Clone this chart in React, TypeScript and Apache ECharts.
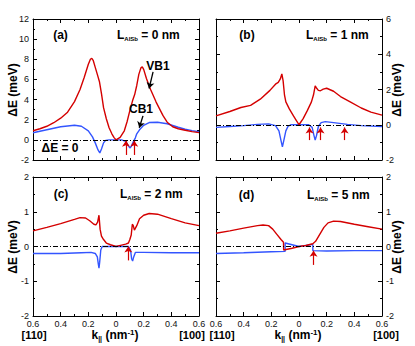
import React, { useEffect, useRef } from 'react';
import * as echarts from 'echarts';

const RED = '#d40000';
const BLUE = '#3355ff';
const FONT = '"Liberation Sans", Arial, Helvetica, sans-serif';

// tick labels along k|| (absolute values on both branches)
const xTickLabels = ['0.6', '0.4', '0.2', '0', '0.2', '0.4', '0.6'];

// Panel (a) L_AlSb = 0 nm
const vbA: number[][] = [
  [-0.6, 0.9], [-0.55, 1.1], [-0.5, 1.35], [-0.45, 1.7], [-0.4, 2.15], [-0.35, 2.75], [-0.3, 3.8],
  [-0.26, 5.0], [-0.23, 6.2], [-0.2, 7.5], [-0.185, 8.0], [-0.175, 8.1], [-0.165, 7.9], [-0.15, 7.2],
  [-0.135, 6.5], [-0.12, 5.8], [-0.105, 4.6], [-0.09, 3.2], [-0.07, 2.1], [-0.05, 1.2], [-0.03, 0.6],
  [-0.015, 0.25], [0, 0], [0.03, 0.25], [0.06, 0.9], [0.08, 1.8], [0.1, 2.9], [0.12, 3.9], [0.135, 4.5],
  [0.15, 5.4], [0.165, 6.5], [0.18, 7.15], [0.19, 7.25], [0.2, 7.0], [0.22, 6.1], [0.25, 5.0],
  [0.29, 3.75], [0.34, 2.4], [0.37, 1.75], [0.41, 1.3], [0.45, 1.1], [0.5, 0.95], [0.55, 0.82], [0.6, 0.72],
];
const cbA: number[][] = [
  [-0.6, 0.7], [-0.5, 1.0], [-0.4, 1.3], [-0.3, 1.45], [-0.25, 1.35], [-0.2, 0.9], [-0.17, 0.3],
  [-0.15, -0.3], [-0.13, -1.0], [-0.117, -1.3], [-0.105, -0.9], [-0.09, -0.3], [-0.075, -0.05],
  [-0.05, 0], [0, 0], [0.04, 0], [0.07, -0.15], [0.09, -0.6], [0.1, -0.8], [0.11, -0.65], [0.125, -0.2],
  [0.14, 0.2], [0.15, 0.6], [0.17, 1.0], [0.2, 1.45], [0.24, 1.72], [0.3, 1.75], [0.37, 1.6],
  [0.45, 1.25], [0.5, 1.05], [0.55, 0.92], [0.6, 0.8],
];
const arrowsA = [0.072, 0.132];

// Panel (b) L_AlSb = 1 nm
const vbB: number[][] = [
  [-0.6, 0.5], [-0.5, 0.75], [-0.42, 0.98], [-0.35, 1.1], [-0.28, 1.45], [-0.21, 1.95], [-0.17, 2.3],
  [-0.15, 2.4], [-0.135, 2.6], [-0.124, 2.88], [-0.115, 2.5], [-0.105, 1.7], [-0.095, 1.3],
  [-0.07, 0.9], [-0.04, 0.5], [-0.02, 0.25], [0, 0], [0.03, 0.35], [0.06, 0.8], [0.09, 1.3],
  [0.105, 1.7], [0.117, 2.2], [0.125, 2.1], [0.14, 1.95], [0.155, 1.93], [0.175, 2.02], [0.2, 2.07],
  [0.25, 1.9], [0.3, 1.6], [0.37, 1.3], [0.45, 0.95], [0.52, 0.72], [0.6, 0.55],
];
const cbB: number[][] = [
  [-0.6, -0.15], [-0.5, -0.1], [-0.4, -0.05], [-0.3, 0.02], [-0.22, 0.05], [-0.17, -0.05],
  [-0.145, -0.35], [-0.13, -0.9], [-0.12, -1.25], [-0.11, -0.9], [-0.095, -0.35], [-0.08, -0.1],
  [-0.06, 0], [0, 0], [0.07, 0], [0.095, -0.15], [0.108, -0.6], [0.117, -0.87], [0.127, -0.6],
  [0.14, -0.1], [0.16, 0.12], [0.19, 0.18], [0.25, 0.12], [0.35, 0.02], [0.45, -0.05], [0.6, -0.1],
];
const arrowsB = [0.076, 0.156, 0.33];

// Panel (c) L_AlSb = 2 nm
const vbC: number[][] = [
  [-0.6, 0.45], [-0.5, 0.55], [-0.4, 0.66], [-0.3, 0.78], [-0.26, 0.83], [-0.22, 0.82], [-0.19, 0.74],
  [-0.16, 0.64], [-0.145, 0.62], [-0.133, 0.7], [-0.123, 0.9], [-0.115, 0.5], [-0.105, 0.3],
  [-0.09, 0.2], [-0.07, 0.1], [-0.04, 0.05], [0, 0], [0.04, 0.04], [0.07, 0.07], [0.09, 0.1],
  [0.1, 0.2], [0.11, 0.33], [0.118, 0.64], [0.125, 0.6], [0.133, 0.47], [0.15, 0.6], [0.17, 0.8],
  [0.2, 0.9], [0.24, 0.95], [0.3, 0.93], [0.4, 0.8], [0.5, 0.68], [0.6, 0.6],
];
const cbC: number[][] = [
  [-0.6, -0.2], [-0.4, -0.2], [-0.25, -0.18], [-0.18, -0.17], [-0.15, -0.2], [-0.135, -0.3],
  [-0.128, -0.5], [-0.123, -0.62], [-0.118, -0.45], [-0.11, -0.1], [-0.1, 0], [-0.05, 0], [0, 0],
  [0.05, 0], [0.09, 0], [0.105, -0.1], [0.113, -0.35], [0.12, -0.42], [0.128, -0.3], [0.14, -0.17],
  [0.2, -0.17], [0.4, -0.18], [0.6, -0.18],
];
const arrowsC = [0.089];

// Panel (d) L_AlSb = 5 nm
const vbD: number[][] = [
  [-0.6, 0.38], [-0.5, 0.45], [-0.4, 0.53], [-0.3, 0.6], [-0.26, 0.62], [-0.22, 0.6], [-0.19, 0.5],
  [-0.16, 0.35], [-0.13, 0.2], [-0.112, 0.12], [-0.111, -0.1], [-0.05, -0.05], [0, 0], [0.05, 0.03],
  [0.1, 0.08], [0.12, 0.15], [0.15, 0.35], [0.18, 0.55], [0.21, 0.68], [0.25, 0.73], [0.3, 0.72],
  [0.4, 0.64], [0.5, 0.57], [0.6, 0.5],
];
const cbD: number[][] = [
  [-0.6, -0.2], [-0.4, -0.18], [-0.2, -0.15], [-0.1, -0.14], [-0.1, 0.1], [-0.05, 0.05], [0, 0],
  [0.05, 0.03], [0.1, 0.06], [0.1, -0.12], [0.2, -0.13], [0.4, -0.12], [0.6, -0.12],
];
const arrowsD = [0.105];

const panels = [
  { grid: { left: 33, top: 19, width: 166, height: 141 }, yMin: -2, yMax: 12, yInt: 2, side: 'left', xLabels: false,
    vb: vbA, cb: cbA, arrows: arrowsA, from: -1.5, to: -0.1 },
  { grid: { left: 216, top: 19, width: 166, height: 141 }, yMin: -2, yMax: 6, yInt: 2, side: 'right', xLabels: false,
    vb: vbB, cb: cbB, arrows: arrowsB, from: -0.87, to: -0.15 },
  { grid: { left: 33, top: 177, width: 166, height: 139 }, yMin: -2, yMax: 2, yInt: 1, side: 'left', xLabels: true,
    vb: vbC, cb: cbC, arrows: arrowsC, from: -0.4, to: 0.0 },
  { grid: { left: 216, top: 177, width: 166, height: 139 }, yMin: -2, yMax: 2, yInt: 1, side: 'right', xLabels: true,
    vb: vbD, cb: cbD, arrows: arrowsD, from: -0.53, to: -0.12 },
];

const bold = (size: number) => ({ fontSize: size, fontWeight: 'bold', fontFamily: FONT, fill: '#000' });

function txt(x: number, y: number, text: string, size = 12, align = 'center', rotation = 0, rich?: any) {
  return {
    type: 'text', x, y, rotation, z: 100, silent: true,
    style: {
      text, fill: '#000', font: `bold ${size}px ${FONT}`,
      align, textAlign: align, verticalAlign: 'middle', textVerticalAlign: 'middle',
      rich,
    },
  };
}

const lRich = {
  b: { ...bold(12), lineHeight: 14 },
  s: { ...bold(6), lineHeight: 6, verticalAlign: 'bottom' },
};
const kRich = {
  b: { ...bold(12), lineHeight: 14 },
  s: { ...bold(7), lineHeight: 7, verticalAlign: 'bottom' },
  p: { ...bold(8), lineHeight: 8, verticalAlign: 'top' },
};

export default function App() {
  const ref = useRef<HTMLDivElement>(null);
  useEffect(() => {
    if (!ref.current) return;
    const chart = echarts.init(ref.current, undefined, { renderer: 'svg' });
    const axisLine = { show: true, onZero: false, lineStyle: { color: '#000', width: 1 } };
    const axisTick = { show: true, inside: true, length: 4, lineStyle: { color: '#000', width: 1 } };
    const minorTick = { show: true, splitNumber: 2, length: 2, lineStyle: { color: '#000', width: 1 } };
    const xAxis: any[] = [];
    const yAxis: any[] = [];
    const series: any[] = [];
    panels.forEach((p, i) => {
      const xc = { type: 'value', gridIndex: i, min: -0.6, max: 0.6, interval: 0.2, splitLine: { show: false }, axisLine, axisTick, minorTick };
      xAxis.push({ ...xc, position: 'bottom', axisLabel: { show: p.xLabels, fontSize: 9, color: '#111', margin: 3, fontFamily: FONT,
        formatter: (v: number) => xTickLabels[Math.round((v + 0.6) / 0.2)] } });
      xAxis.push({ ...xc, position: 'top', axisLabel: { show: false } });
      const yc = { type: 'value', gridIndex: i, min: p.yMin, max: p.yMax, interval: p.yInt, splitLine: { show: false }, axisLine, axisTick, minorTick };
      yAxis.push({ ...yc, position: p.side, axisLabel: { show: true, fontSize: 9, color: '#111', margin: 4, fontFamily: FONT } });
      yAxis.push({ ...yc, position: p.side === 'left' ? 'right' : 'left', axisLabel: { show: false } });
      series.push({
        type: 'line', xAxisIndex: 2 * i, yAxisIndex: 2 * i, data: [], symbol: 'none', silent: true, z: 1,
        markLine: { silent: true, symbol: ['none', 'none'], label: { show: false },
          lineStyle: { color: '#000', width: 1, type: [5, 2, 1, 2] }, data: [{ yAxis: 0 }] },
      });
      series.push({
        type: 'line', xAxisIndex: 2 * i, yAxisIndex: 2 * i, data: p.cb, symbol: 'none', showSymbol: false,
        lineStyle: { color: BLUE, width: 1.4 }, itemStyle: { color: BLUE }, z: 3,
      });
      const extra: any[] = p.arrows.map((k) => [
        { coord: [k, p.from], lineStyle: { color: RED, width: 1.2 } },
        { coord: [k, p.to] },
      ]);
      if (i === 0) {
        extra.push([{ coord: [0.268, 6.75], lineStyle: { color: '#000', width: 1.3 } }, { coord: [0.239, 5.1] }]);
        extra.push([{ coord: [0.195, 2.38], lineStyle: { color: '#000', width: 1.3 } }, { coord: [0.168, 1.2] }]);
      }
      series.push({
        type: 'line', xAxisIndex: 2 * i, yAxisIndex: 2 * i, data: p.vb, symbol: 'none', showSymbol: false,
        lineStyle: { color: RED, width: 1.4 }, itemStyle: { color: RED }, z: 4,
        markLine: { silent: true, symbol: ['none', 'arrow'], symbolSize: 6, label: { show: false }, z: 6,
          lineStyle: { color: RED, width: 1.2, type: 'solid' }, data: extra },
      });
    });

    const graphic: any[] = [
      txt(60.5, 35, '(a)'), txt(247, 35, '(b)'), txt(61, 194, '(c)'), txt(246.5, 195, '(d)'),
      txt(117, 35, '{b|L}{s|AlSb}{b| = 0 nm}', 12, 'left', 0, lRich),
      txt(306, 35, '{b|L}{s|AlSb}{b| = 1 nm}', 12, 'left', 0, lRich),
      txt(120, 194, '{b|L}{s|AlSb}{b| = 2 nm}', 12, 'left', 0, lRich),
      txt(307, 195, '{b|L}{s|AlSb}{b| = 5 nm}', 12, 'left', 0, lRich),
      txt(158, 66, 'VB1'), txt(141, 108.5, 'CB1'), txt(60, 147.5, 'ΔE = 0'),
      txt(13, 90, 'ΔE (meV)', 12, 'center', Math.PI / 2),
      txt(13, 247, 'ΔE (meV)', 12, 'center', Math.PI / 2),
      txt(397, 90, 'ΔE (meV)', 12, 'center', Math.PI / 2),
      txt(397, 247, 'ΔE (meV)', 12, 'center', Math.PI / 2),
      txt(34, 335, '[110]', 11), txt(192, 335, '[100]', 11),
      txt(222, 335, '[110]', 11), txt(386, 335, '[100]', 11),
      txt(115, 335, '{b|k}{s|||}{b| (nm}{p|-1}{b|)}', 12, 'center', 0, kRich),
      txt(298, 335, '{b|k}{s|||}{b| (nm}{p|-1}{b|)}', 12, 'center', 0, kRich),
    ];

    chart.setOption({
      animation: false,
      backgroundColor: '#fff',
      grid: panels.map((p) => ({ ...p.grid, containLabel: false, outerBoundsMode: 'none' })),
      xAxis, yAxis, series, graphic,
    });
    return () => chart.dispose();
  }, []);
  return <div ref={ref} style={{ position: 'absolute', left: 0, top: 0, width: 415, height: 346 }} />;
}
